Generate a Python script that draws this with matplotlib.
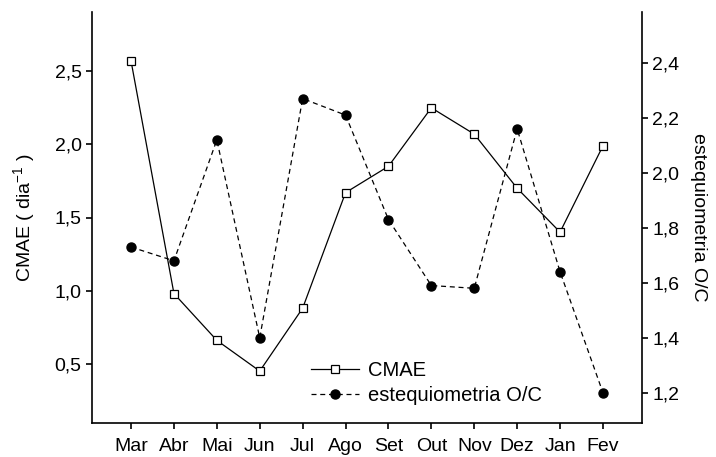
import matplotlib
matplotlib.use("Agg")
import matplotlib.pyplot as plt
from matplotlib.ticker import FuncFormatter

plt.rcParams['font.family'] = ['Liberation Sans', 'DejaVu Sans']
plt.rcParams['mathtext.fontset'] = 'custom'
plt.rcParams['mathtext.rm'] = 'Liberation Sans'

meses = ["Mar", "Abr", "Mai", "Jun", "Jul", "Ago", "Set", "Out", "Nov", "Dez", "Jan", "Fev"]
cmae = [2.57, 0.98, 0.66, 0.45, 0.88, 1.67, 1.85, 2.25, 2.07, 1.70, 1.40, 1.99]
esteq = [1.73, 1.68, 2.12, 1.40, 2.27, 2.21, 1.83, 1.59, 1.58, 2.16, 1.64, 1.20]

x = list(range(len(meses)))

fig = plt.figure(figsize=(7.16, 4.57), dpi=100)
ax = fig.add_axes([92/716, 1 - 423/457, 550/716, 411/457])
ax2 = ax.twinx()

l1, = ax.plot(x, cmae, color="black", lw=0.9, marker="s", ms=6, mfc="white", mec="black", mew=0.9, label="CMAE")
l2, = ax2.plot(x, esteq, color="black", lw=0.9, ls=(0, (4, 3)), marker="o", ms=6.5, mfc="black", mec="black",
               label="estequiometria O/C")

ax.set_xlim(-0.91, 11.91)
ax.set_ylim(0.095, 2.905)
ax2.set_ylim(1.09, 2.585)
ax.set_yticks([0.5, 1.0, 1.5, 2.0, 2.5])
ax2.set_yticks([1.2, 1.4, 1.6, 1.8, 2.0, 2.2, 2.4])
ax.set_xticks(x)
ax.set_xticklabels(meses)

virg = FuncFormatter(lambda v, p: ("%.1f" % v).replace(".", ","))
ax.yaxis.set_major_formatter(virg)
ax2.yaxis.set_major_formatter(virg)

for a in (ax, ax2):
    a.spines["top"].set_visible(False)
    for s in a.spines.values():
        s.set_linewidth(1.2)
    a.tick_params(direction="out", length=4.5, width=1.2, labelsize=14, pad=3)
ax.tick_params(axis="x", pad=6)
ax2.spines["left"].set_visible(False)
ax2.spines["bottom"].set_visible(False)
ax.spines["right"].set_visible(False)

ax.set_ylabel("CMAE ( dia$^{\\mathregular{-1}}$ )", fontsize=14, labelpad=12)
ax2.set_ylabel("estequiometria O/C", fontsize=14, rotation=270, labelpad=20)

ax.legend([l1, l2], ["CMAE", "estequiometria O/C"], loc="lower left", bbox_to_anchor=(0.383, 0.025),
          frameon=False, fontsize=14.5, handlelength=2.4, handletextpad=0.45, labelspacing=0.3, borderaxespad=0)

fig.savefig("out.png", dpi=100)
